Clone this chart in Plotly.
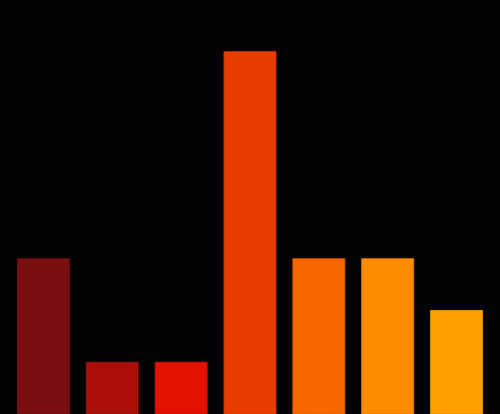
import plotly.graph_objects as go

# data
categories = ["A", "B", "C", "D", "E", "F", "G"]
values = [3, 1, 1, 7, 3, 3, 2]
bar_colors = ["#7a0e10", "#aa0e08", "#e31200", "#eb3c00", "#f86600", "#ff8c00", "#ffa000"]
edge_colors = ["#6a0c0e", "#961008", "#c81200", "#d03800", "#d85a00", "#e07c00", "#e08e00"]

fig = go.Figure(go.Bar(
    x=categories,
    y=values,
    marker=dict(color=bar_colors, line=dict(color=edge_colors, width=1)),
    hoverinfo="skip",
))

fig.update_layout(
    width=500,
    height=414,
    margin=dict(l=9, r=9, t=0, b=0),
    paper_bgcolor="#030305",
    plot_bgcolor="#030305",
    bargap=0.246,
    showlegend=False,
)
fig.update_xaxes(visible=False, range=[-0.5, 6.5])
fig.update_yaxes(visible=False, range=[0, 8])

# no page margin, so the dark background fills the window
fig.write_html("out.html", config={"displayModeBar": False},
               post_script="document.body.style.margin='0';document.body.style.background='#030305';")
